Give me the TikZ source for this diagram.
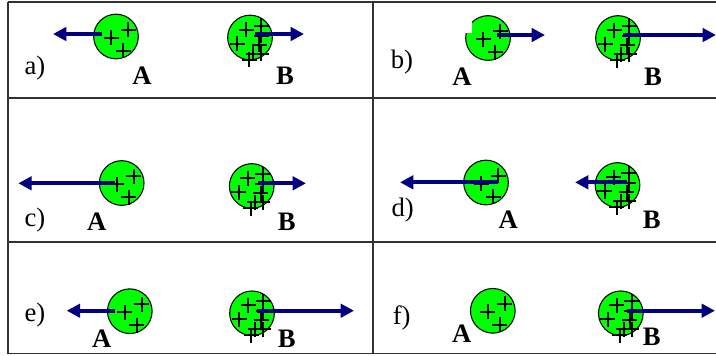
\documentclass[tikz,border=0pt]{standalone}
\usepackage{fontspec}
\setmainfont{Liberation Serif}
\usetikzlibrary{arrows.meta}
\definecolor{forcecol}{RGB}{0,0,128}
\definecolor{ballgreen}{RGB}{0,255,0}
\definecolor{gridcol}{RGB}{50,50,50}
\tikzset{
  ball/.style={circle,draw=black,line width=0.8pt,fill=ballgreen,minimum size=33.5pt,inner sep=0pt},
  force/.style={draw=forcecol,line width=3.2pt,-{Triangle[length=10pt,width=10pt]}},
  plusline/.style={line width=1.5pt,black},
  panellbl/.style={font=\fontsize{20}{22}\selectfont},
  bodylbl/.style={font=\fontsize{20}{22}\selectfont\bfseries},
  gridline/.style={draw=gridcol,line width=1.2pt},
}
\newcommand\chargesA[1]{\foreach \u/\v in {-5/1,12/-7,7/14}
  \draw[plusline] ([shift={(\u-7.5,\v)}]#1.center) -- ++(15,0)
                  ([shift={(\u,\v-7.5)}]#1.center) -- ++(0,15);}
\newcommand\chargesB[1]{\foreach \u/\v in {-4/-8,11/-12,11/-2,-13/6,9/7,3/16,11/16,-1/22}
  \draw[plusline] ([shift={(\u-7.5,\v)}]#1.center) -- ++(15,0)
                  ([shift={(\u,\v-7.5)}]#1.center) -- ++(0,15);}
\begin{document}
\begin{tikzpicture}[x=0.75pt,y=-0.75pt]
\useasboundingbox (0,0) rectangle (716,355);
\clip (0,0) rectangle (716,355);
% grid
\draw[gridline] (8,2) -- (720,2);
\draw[gridline] (8,98) -- (720,98);
\draw[gridline] (8,242) -- (720,242);
\draw[gridline] (8,353.5) -- (720,353.5);
\draw[gridline] (8,2) -- (8,354);
\draw[gridline] (373,2) -- (373,354);

% ---------- a)
\node[panellbl] (la) at (35,68) {a)};
\node[ball] (Aa) at (116,36.5) {};
\chargesA{Aa}
\coordinate (Aas) at (102,34); \coordinate (Aae) at (53,34);
\draw[force] (Aas) -- (Aae);
\node[bodylbl] (nAa) at (142,76) {A};
\node[ball] (Ba) at (250,37.5) {};
\chargesB{Ba}
\coordinate (Bas) at (255,34); \coordinate (Bae) at (304,34);
\draw[force] (Bas) -- (Bae);
\node[bodylbl] (nBa) at (285,76) {B};

% ---------- b)
\node[panellbl] (lb) at (402,62) {b)};
\node[ball] (Ab) at (488,38) {};
\chargesA{Ab}
\fill[white] (462,10) rectangle (471.5,33);
\coordinate (Abs) at (497,35); \coordinate (Abe) at (545,35);
\draw[force] (Abs) -- (Abe);
\node[bodylbl] (nAb) at (462,77) {A};
\node[ball] (Bb) at (618,38) {};
\chargesB{Bb}
\coordinate (Bbs) at (623,35); \coordinate (Bbe) at (716,35);
\draw[force] (Bbs) -- (Bbe);
\node[bodylbl] (nBb) at (653,77) {B};

% ---------- c)
\node[panellbl] (lc) at (35,220) {c)};
\node[ball] (Ac) at (121.7,183) {};
\chargesA{Ac}
\coordinate (Acs) at (115,183.3); \coordinate (Ace) at (18.3,183.3);
\draw[force] (Acs) -- (Ace);
\node[bodylbl] (nAc) at (96.7,221.7) {A};
\node[ball] (Bc) at (251.7,186) {};
\chargesB{Bc}
\coordinate (Bcs) at (258.3,183.3); \coordinate (Bce) at (306,183.3);
\draw[force] (Bcs) -- (Bce);
\node[bodylbl] (nBc) at (286.7,221.7) {B};

% ---------- d)
\node[panellbl] (ld) at (402.7,210) {d)};
\node[ball] (Ad) at (486,182.5) {};
\chargesA{Ad}
\coordinate (Ads) at (498.3,182.3); \coordinate (Ade) at (400,182.3);
\draw[force] (Ads) -- (Ade);
\node[bodylbl] (nAd) at (508.3,220) {A};
\node[ball] (Bd) at (617.5,185) {};
\chargesB{Bd}
\coordinate (Bds) at (626.7,182.3); \coordinate (Bde) at (575,182.3);
\draw[force] (Bds) -- (Bde);
\node[bodylbl] (nBd) at (651.7,220) {B};

% ---------- e)
\node[panellbl] (le) at (35,315) {e)};
\node[ball] (Ae) at (129.8,311.2) {};
\chargesA{Ae}
\coordinate (Aes) at (115,310.7); \coordinate (Aee) at (66.7,310.7);
\draw[force] (Aes) -- (Aee);
\node[bodylbl] (nAe) at (101.7,338.3) {A};
\node[ball] (Be) at (252,313.3) {};
\chargesB{Be}
\coordinate (Bes) at (256.7,310.7); \coordinate (Bee) at (354,310.7);
\draw[force] (Bes) -- (Bee);
\node[bodylbl] (nBe) at (286.7,338.3) {B};

% ---------- f)
\node[panellbl] (lf) at (401.7,318.3) {f)};
\node[ball] (Af) at (492.8,310.8) {};
\chargesA{Af}
\node[bodylbl] (nAf) at (461.7,333.3) {A};
\node[ball] (Bf) at (620.8,313.3) {};
\chargesB{Bf}
\coordinate (Bfs) at (626.7,310.7); \coordinate (Bfe) at (715,310.7);
\draw[force] (Bfs) -- (Bfe);
\node[bodylbl] (nBf) at (651.7,336.7) {B};
\end{tikzpicture}
\end{document}
